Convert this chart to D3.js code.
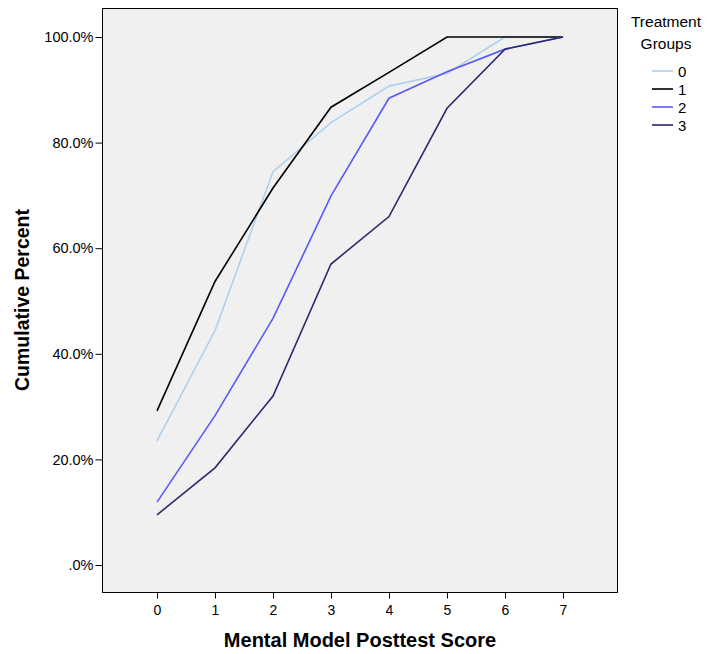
<!DOCTYPE html>
<html>
<head>
<meta charset="utf-8">
<script src="https://cdn.jsdelivr.net/npm/d3@7"></script>
<style>
  body { margin: 0; background: #fff; }
  svg { display: block; font-family: "Liberation Sans", Arial, sans-serif; }
</style>
</head>
<body>
<div id="chart"></div>
<script>
// scores on x axis
const scores = [0, 1, 2, 3, 4, 5, 6, 7];
const groups = ["0", "1", "2", "3"];
// cumulative percent per treatment group
const group0 = [23.5, 44.4, 74.5, 83.8, 90.7, 93.1, 100, 100];
const group1 = [29.2, 53.7, 71.4, 86.7, 93.3, 100, 100, 100];
const group2 = [11.9, 28.3, 46.7, 69.9, 88.4, 93.4, 97.7, 100];
const group3 = [9.5, 18.4, 32.0, 57.0, 66.0, 86.5, 97.7, 100];
const yTicks = [0, 20, 40, 60, 80, 100];

const colors = ["#aed0ee", "#000000", "#5a5af8", "#2a2a6c"];
const W = 708, H = 654;
const frame = {left: 102, top: 8, right: 617, bottom: 592};
const FONT = "Liberation Sans, Arial, sans-serif";

const svg = d3.select("#chart").append("svg")
  .attr("width", W)
  .attr("height", H);

const x = d3.scaleLinear()
  .domain([0, 7])
  .range([157, 563]);

const y = d3.scaleLinear()
  .domain([0, 100])
  .range([565, 37]);

// plot background + frame
svg.append("rect")
  .attr("x", frame.left + 0.5)
  .attr("y", frame.top + 0.5)
  .attr("width", frame.right - frame.left)
  .attr("height", frame.bottom - frame.top)
  .attr("fill", "#f0f0f0")
  .attr("stroke", "#000")
  .attr("stroke-width", 1);

// y axis
const yAxis = svg.append("g")
  .attr("transform", `translate(${frame.left + 0.5},0)`)
  .call(d3.axisLeft(y).tickValues(yTicks).tickSize(7).tickPadding(2)
    .tickFormat(d => d === 0 ? ".0%" : d3.format(".1f")(d) + "%"));
yAxis.select(".domain").remove();
yAxis.selectAll("text").attr("font-size", 14.5).attr("font-family", FONT).attr("fill", "#000");

// x axis
const xAxis = svg.append("g")
  .attr("transform", `translate(0,${frame.bottom + 0.5})`)
  .call(d3.axisBottom(x).tickValues(scores).tickSize(6).tickPadding(7).tickFormat(d3.format("d")));
xAxis.select(".domain").remove();
xAxis.selectAll("text").attr("font-size", 14).attr("font-family", FONT).attr("fill", "#000");

// lines
const series = [group0, group1, group2, group3];
const line = d3.line()
  .x((d, i) => x(scores[i]))
  .y(d => y(d));

svg.append("g").selectAll("path")
  .data(series)
  .join("path")
  .attr("d", d => line(d))
  .attr("fill", "none")
  .attr("stroke", (d, i) => colors[i])
  .attr("stroke-width", 1.6)
  .attr("stroke-linejoin", "miter");

// axis titles
svg.append("text")
  .attr("x", 360)
  .attr("y", 647)
  .attr("text-anchor", "middle")
  .attr("font-size", 20)
  .attr("font-weight", "bold")
  .text("Mental Model Posttest Score");

svg.append("text")
  .attr("transform", "translate(29,300) rotate(-90)")
  .attr("text-anchor", "middle")
  .attr("font-size", 19.5)
  .attr("font-weight", "bold")
  .text("Cumulative Percent");

// legend
const legend = svg.append("g");
legend.append("text")
  .attr("x", 666).attr("y", 27)
  .attr("text-anchor", "middle")
  .attr("font-size", 15.5)
  .text("Treatment");
legend.append("text")
  .attr("x", 666).attr("y", 49)
  .attr("text-anchor", "middle")
  .attr("font-size", 15.5)
  .text("Groups");

const rows = legend.selectAll("g.row")
  .data(groups)
  .join("g")
  .attr("class", "row")
  .attr("transform", (d, i) => `translate(0,${71 + i * 18})`);
rows.append("line")
  .attr("x1", 652).attr("x2", 673)
  .attr("stroke", (d, i) => colors[i])
  .attr("stroke-width", 1.6);
rows.append("text")
  .attr("x", 678).attr("y", 5.5)
  .attr("font-size", 15)
  .text(d => d);
</script>
</body>
</html>
